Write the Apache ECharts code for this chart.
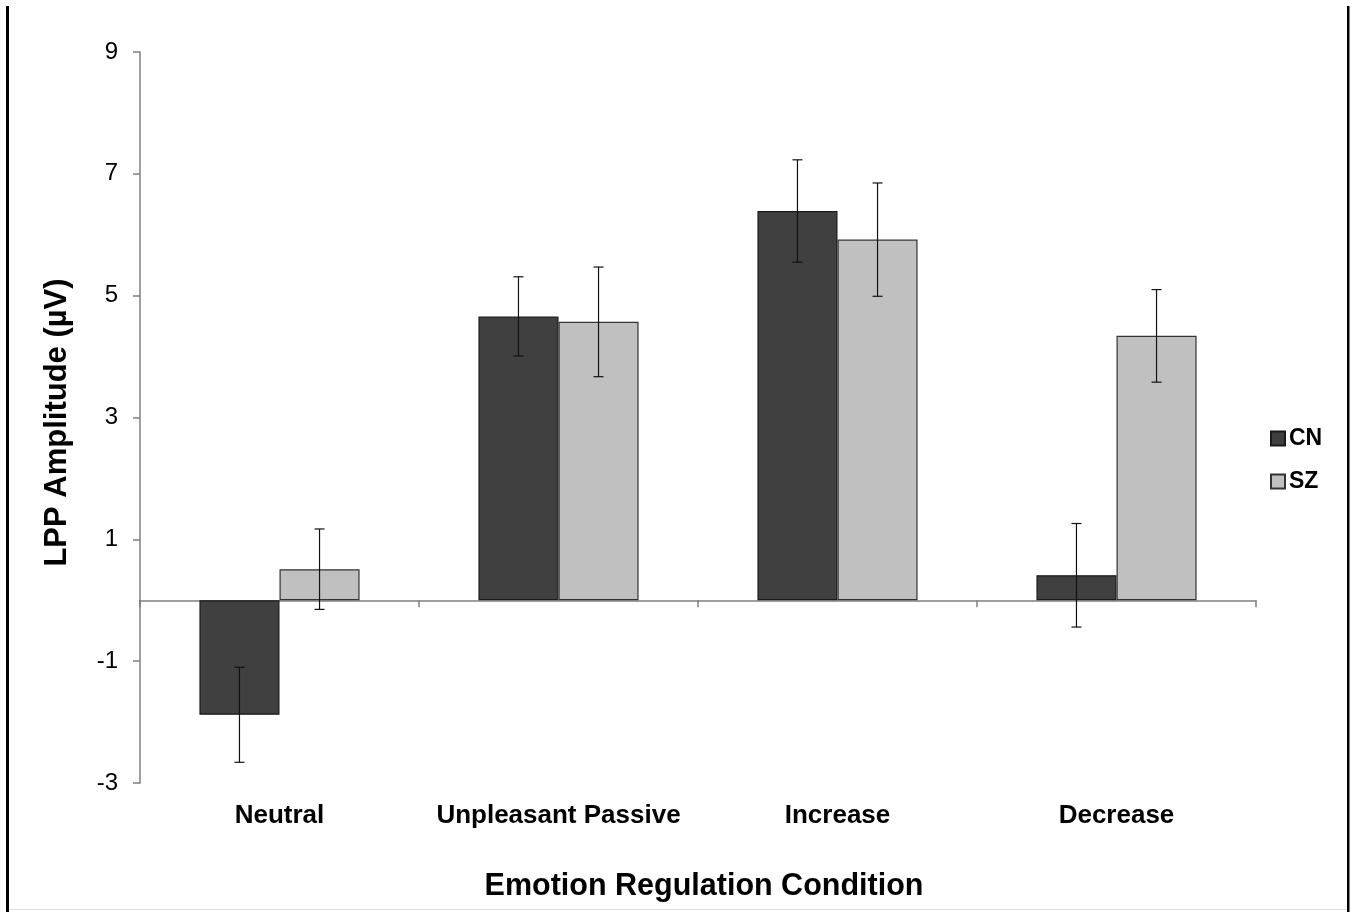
<!DOCTYPE html>
<html>
<head>
<meta charset="utf-8">
<script src="https://cdn.jsdelivr.net/npm/echarts@6/dist/echarts.min.js"></script>
<style>
html,body{margin:0;padding:0;background:#fff;}
#chart{width:1355px;height:912px;}
</style>
</head>
<body>
<div id="chart"></div>
<script>
const categories = ['Neutral', 'Unpleasant Passive', 'Increase', 'Decrease'];
const seriesNames = ['CN', 'SZ'];
const cnMeans = [-1.88, 4.66, 6.39, 0.41];
const cnErrors = [0.78, 0.65, 0.84, 0.85];
const szMeans = [0.51, 4.57, 5.92, 4.34];
const szErrors = [0.66, 0.90, 0.93, 0.76];
const yTicks = { min: -3, max: 9, interval: 2 };

const FONT = '"Liberation Sans", Arial, sans-serif';
const BAR_RATIO = 0.287;

const chart = echarts.init(document.getElementById('chart'));

function errSeries(name, means, errs, side) {
  return {
    name: name + ' error',
    type: 'custom',
    xAxisIndex: 0,
    yAxisIndex: 0,
    z: 10,
    silent: true,
    data: means.map((m, i) => [i, m, errs[i]]),
    renderItem: function (params, api) {
      const idx = api.value(0);
      const m = api.value(1);
      const e = api.value(2);
      const band = api.size([1, 0])[0];
      const off = side * band * BAR_RATIO / 2;
      const hi = api.coord([idx, m + e]);
      const lo = api.coord([idx, m - e]);
      const x = hi[0] + off;
      const cap = 5;
      const style = { stroke: '#111', lineWidth: 1.2 };
      return {
        type: 'group',
        children: [
          { type: 'line', shape: { x1: x, y1: hi[1], x2: x, y2: lo[1] }, style: style },
          { type: 'line', shape: { x1: x - cap, y1: hi[1], x2: x + cap, y2: hi[1] }, style: style },
          { type: 'line', shape: { x1: x - cap, y1: lo[1], x2: x + cap, y2: lo[1] }, style: style }
        ]
      };
    }
  };
}

const option = {
  backgroundColor: '#fff',
  animation: false,
  textStyle: { fontFamily: FONT },
  grid: { left: 140, right: 99, top: 52, bottom: 129 },
  legend: {
    data: seriesNames,
    orient: 'vertical',
    left: 1265,
    top: 422,
    itemWidth: 14,
    itemHeight: 14,
    itemGap: 20,
    icon: 'rect',
    textStyle: { fontFamily: FONT, fontSize: 23, fontWeight: 'bold', color: '#000', padding: [0, 0, 0, -1] }
  },
  xAxis: [
    {
      type: 'category',
      data: categories,
      position: 'bottom',
      axisLine: { show: true, onZero: true, lineStyle: { color: '#7f7f7f', width: 1.5 } },
      axisTick: { show: true, length: 7, lineStyle: { color: '#7f7f7f', width: 1.5 } },
      axisLabel: { show: false },
      splitLine: { show: false }
    },
    {
      type: 'category',
      data: categories,
      position: 'bottom',
      axisLine: { show: false, onZero: false },
      axisTick: { show: false },
      axisLabel: { show: true, interval: 0, margin: 20, fontFamily: FONT, fontSize: 26, fontWeight: 'bold', color: '#000' },
      name: 'Emotion Regulation Condition',
      nameLocation: 'middle',
      nameGap: 88,
      nameTextStyle: { fontFamily: FONT, fontSize: 30.5, fontWeight: 'bold', color: '#000', padding: [0, 0, 0, 12] }
    }
  ],
  yAxis: {
    type: 'value',
    min: yTicks.min,
    max: yTicks.max,
    interval: yTicks.interval,
    axisLine: { show: true, onZero: false, lineStyle: { color: '#7f7f7f', width: 1.5 } },
    axisTick: { show: true, length: 7, lineStyle: { color: '#7f7f7f', width: 1.5 } },
    axisLabel: { margin: 22, fontFamily: FONT, fontSize: 24, color: '#000' },
    splitLine: { show: false },
    name: 'LPP Amplitude (µV)',
    nameLocation: 'middle',
    nameGap: 67,
    nameTextStyle: { fontFamily: FONT, fontSize: 31, fontWeight: 'bold', color: '#000', padding: [0, 10, 0, 0] }
  },
  series: [
    {
      name: 'CN',
      type: 'bar',
      data: cnMeans,
      barWidth: (BAR_RATIO * 100) + '%',
      barGap: '0%',
      itemStyle: { color: '#404040', borderColor: '#1a1a1a', borderWidth: 1.2 }
    },
    {
      name: 'SZ',
      type: 'bar',
      data: szMeans,
      barWidth: (BAR_RATIO * 100) + '%',
      barGap: '0%',
      itemStyle: { color: '#c0c0c0', borderColor: '#333', borderWidth: 1.2 }
    },
    errSeries('CN', cnMeans, cnErrors, -1),
    errSeries('SZ', szMeans, szErrors, 1)
  ],
  graphic: [
    { type: 'rect', shape: { x: 6, y: 6, width: 3, height: 906 }, style: { fill: '#000' }, silent: true },
    { type: 'rect', shape: { x: 1347, y: 6, width: 2.5, height: 906 }, style: { fill: '#000' }, silent: true },
    { type: 'rect', shape: { x: 9, y: 909, width: 1338, height: 1 }, style: { fill: '#ddd' }, silent: true }
  ]
};

chart.setOption(option);
</script>
</body>
</html>
